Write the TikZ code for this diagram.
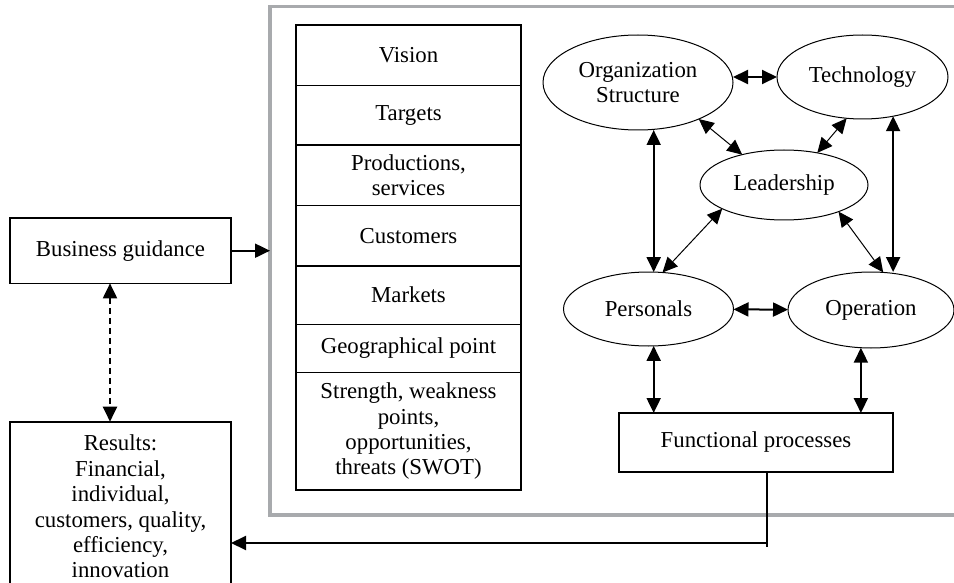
\documentclass[tikz,border=0pt]{standalone}
\usepackage{fontspec}
\setmainfont{Liberation Serif}
\usetikzlibrary{positioning, arrows.meta, shapes.geometric}
\definecolor{framegray}{RGB}{168,170,173}
\tikzset{
  >={Triangle[length=7.5pt, width=7pt]}, % big filled arrow heads
  every node/.style={font=\fontsize{11.4}{12.7}\selectfont, outer sep=0pt}, % same text everywhere
  frame/.style={draw=framegray, line width=1.6pt}, % the gray frame round the model
  box/.style={draw, line width=0.8pt, minimum width=110.5pt, align=center}, % plain boxes
  row/.style={draw, line width=0.6pt, minimum width=112.5pt, align=center}, % one cell of the list
  bubble/.style={ellipse, draw, line width=0.5pt, inner sep=0pt, align=center}, % the ellipses
  link/.style={<->, line width=1pt}, % thick two way links
  thin link/.style={<->, line width=0.5pt}, % thin two way links
}

\begin{document}
\begin{tikzpicture}[x=0.5pt, y=-0.5pt]
      \useasboundingbox (0,0) rectangle (954,583);
      \node[frame, minimum width=355pt, minimum height=254.15pt] (frame) at (625,260.85) {};

      % the list on the left of the frame
      \node[row, minimum height=30.35pt, anchor=north] (vision) at (408.5,25) {Vision};
      \node[row, minimum height=29.65pt, below=0pt of vision] (targets) {Targets};
      \node[row, minimum height=30.35pt, below=0pt of targets] (prod) {Productions,\\services};
      \node[row, minimum height=30.15pt, below=0pt of prod] (cust) {Customers};
      \node[row, minimum height=29.15pt, below=0pt of cust] (markets) {Markets};
      \node[row, minimum height=24.2pt, below=0pt of markets] (geo) {Geographical point};
      \node[row, minimum height=58.65pt, below=0pt of geo] (swot) {Strength, weakness\\points,\\opportunities,\\threats (SWOT)};

      % the ellipses
      \node[bubble, minimum width=95pt, minimum height=47.5pt] (org) at (638,82.5) {Organization\\Structure};
      \node[bubble, minimum width=85.5pt, minimum height=42pt] (tech) at (862.5,77) {Technology};
      \node[bubble, minimum width=84pt, minimum height=35pt] (lead) at (784,185) {Leadership};
      \node[bubble, minimum width=85pt, minimum height=37pt] (pers) at (648.5,309) {Personals};
      \node[bubble, minimum width=83pt, minimum height=38pt] (oper) at (871,310) {Operation};
      \node[box, minimum width=137pt, minimum height=29.5pt] (fp) at (756,442.5) {Functional processes};

      % outside the frame
      \node[box, minimum height=32.65pt] (bg) at (120.5,250.7) {Business guidance};
      \node[box, minimum height=84.8pt] (res) at (120.5,506.5) {Results:\\Financial,\\individual,\\customers, quality,\\efficiency,\\innovation};
      \coordinate (bend) at (767,543);

      \draw
      (tech.west -| org.east) edge[link] (tech.west)
      (org.-31) edge[thin link] (lead.144)
      (tech.249) edge[thin link] (lead.44)
      (pers.82 |- org.south) edge[link] (pers.82)
      (tech.-52) edge[link] (tech.-52 |- oper.north)
      (lead.201) edge[thin link] (pers.69)
      (lead.334) edge[thin link] (oper.72)
      (pers) edge[link] (oper)
      (pers.-82) edge[link] (pers.-82 |- fp.north)
      (oper.-105) edge[link] (oper.-105 |- fp.north)
      ;

      \draw[->, line width=1pt] (bg.east) -- (bg.east -| frame.west);
      \draw[<->, line width=1pt, dash pattern=on 3pt off 2pt] ([xshift=-5.25pt]bg.south) -- ([xshift=-5.25pt]res.north);
      \draw[line width=1pt] (fp.south -| bend) -- (bend) -- ++(0,4);
      \draw[->, line width=1pt] (bend) -- (bend -| res.east);
    \end{tikzpicture}
\end{document}
